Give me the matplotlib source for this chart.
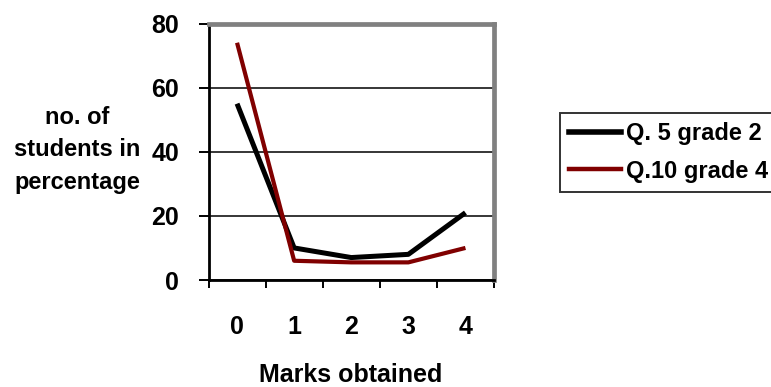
import matplotlib
matplotlib.use("Agg")
import matplotlib.pyplot as plt
from matplotlib.lines import Line2D

plt.rcParams['font.family'] = ['Liberation Sans', 'DejaVu Sans']
plt.rcParams['font.weight'] = 'bold'

marks = ["0", "1", "2", "3", "4"]
q5_grade2 = [55, 10, 7, 8, 21]
q10_grade4 = [74, 6, 5.5, 5.5, 10]
y_ticks = [0, 20, 40, 60, 80]

W, H = 771, 387
fig = plt.figure(figsize=(W / 100, H / 100), dpi=100)
ax = fig.add_axes([208.5 / W, 1 - 280 / H, (494 - 208.5) / W, (280 - 23.5) / H])

x = list(range(len(marks)))
ax.plot(x, q5_grade2, color="black", lw=3.6, solid_joinstyle="round",
        solid_capstyle="butt", label="Q. 5 grade 2", zorder=3)
ax.plot(x, q10_grade4, color="#800000", lw=3.0, solid_joinstyle="round",
        solid_capstyle="butt", label="Q.10 grade 4", zorder=4)

ax.set_xlim(-0.5, len(marks) - 0.5)
ax.set_ylim(0, 80)

# category labels centred, tick marks on the category boundaries
ax.set_xticks(x)
ax.set_xticklabels(marks, fontsize=18, fontweight='bold')
ax.tick_params(axis='x', which='major', length=0, pad=25)
ax.set_xticks([i - 0.5 for i in range(len(marks) + 1)], minor=True)
ax.tick_params(axis='x', which='minor', length=6, width=1.4, direction='out', color='black')

ax.set_yticks(y_ticks)
ax.set_yticklabels([str(v) for v in y_ticks], fontsize=18, fontweight='bold')
ax.tick_params(axis='y', length=7, width=1.4, direction='out', pad=14, color='black')

ax.grid(axis='y', color='black', lw=1.1, zorder=1)
ax.set_axisbelow(True)

for side in ("left", "bottom"):
    ax.spines[side].set_color("black")
    ax.spines[side].set_linewidth(2.0)
for side in ("top", "right"):
    ax.spines[side].set_color("#808080")
    ax.spines[side].set_linewidth(3.4)

fig.text(351 / W, 1 - 375 / H, "Marks obtained", ha='center', va='center',
         fontsize=18, fontweight='bold')

for txt, yy in (("no. of", 118), ("students in", 150), ("percentage", 182)):
    fig.text(77 / W, 1 - yy / H, txt, ha='center', va='center',
             fontsize=17, fontweight='bold')

handles = [Line2D([], [], color="black", lw=4.0),
           Line2D([], [], color="#800000", lw=3.2)]
leg = fig.legend(handles, ["Q. 5 grade 2", "Q.10 grade 4"],
                 loc='upper left', bbox_to_anchor=(560 / W, 1 - 113 / H),
                 borderaxespad=0, prop={'weight': 'bold', 'size': 17},
                 frameon=True, fancybox=False, handlelength=2.2, handletextpad=0.2,
                 borderpad=0.4, labelspacing=0.6)
leg.get_frame().set_edgecolor("black")
leg.get_frame().set_linewidth(1.4)

fig.savefig("out.png", dpi=100)
